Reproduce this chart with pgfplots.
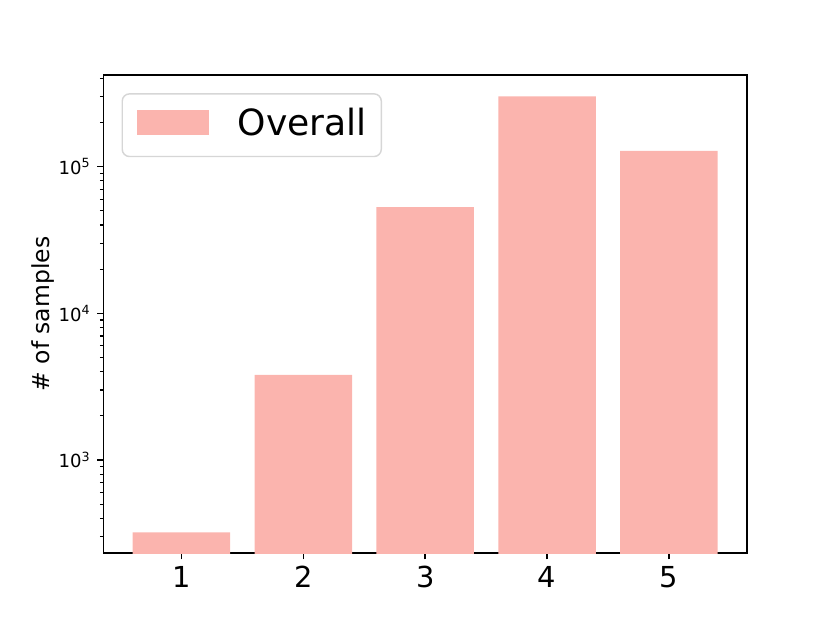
\documentclass[border=0pt]{standalone}
\usepackage{fontspec}
\setmainfont{DejaVu Sans}
\usepackage{pgfplots}
\pgfplotsset{compat=1.18}
\definecolor{barc}{HTML}{FBB4AE}
\definecolor{legframe}{HTML}{D6D6D6}
\begin{document}
\begin{tikzpicture}
\path[use as bounding box] (0,0) rectangle (459.7pt,345pt);
\begin{axis}[
  at={(57.3pt,38.7pt)}, anchor=south west,
  scale only axis, width=356.4pt, height=264.7pt,
  ymode=log, log basis y=10,
  xmin=0.36, xmax=5.64, ymin=232, ymax=421000,
  ybar, bar width=0.8, bar shift=0pt,
  axis line style={line width=0.8pt, black},
  tick align=outside, xtick pos=bottom, ytick pos=left,
  major tick length=3.5pt, minor tick length=2pt,
  every tick/.style={black, line width=0.8pt},
  every minor tick/.append style={line width=0.6pt},
  xtick={1,2,3,4,5},
  xticklabels={1,2,3,4,5},
  ytick={1000,10000,100000},
  yticklabels={10\textsuperscript{3},10\textsuperscript{4},10\textsuperscript{5}},
  minor ytick={300,400,500,600,700,800,900,2000,3000,4000,5000,6000,7000,8000,9000,20000,30000,40000,50000,60000,70000,80000,90000,200000,300000,400000},
  xticklabel style={font=\fontsize{16}{19}\selectfont, inner sep=0pt, yshift=-3.5pt},
  yticklabel style={font=\fontsize{10}{12}\selectfont, inner sep=0pt, xshift=-3.5pt},
  ylabel={\# of samples},
  ylabel style={font=\fontsize{13}{15}\selectfont, at={(axis description cs:-0.094,0.5)}, anchor=center},
  legend image code/.code={\fill[#1, sharp corners] (0pt,0.3pt) rectangle (40pt,14.3pt);},
  legend style={at={(0,1)}, anchor=north west, xshift=10pt, yshift=-10pt,
    draw=legframe, line width=0.8pt, rounded corners=4pt,
    inner xsep=8pt, inner ysep=8.4pt,
    font=\fontsize{20}{24}\selectfont,
    nodes={inner sep=0pt, text height=14.6pt, text depth=3.3pt},
    cells={anchor=base west},
    column sep=16pt},
]
\addplot[fill=barc, draw=none] coordinates {(1,321) (2,3800) (3,53000) (4,301000) (5,128000)};
\addlegendentry{Overall}
\end{axis}
\end{tikzpicture}
\end{document}
